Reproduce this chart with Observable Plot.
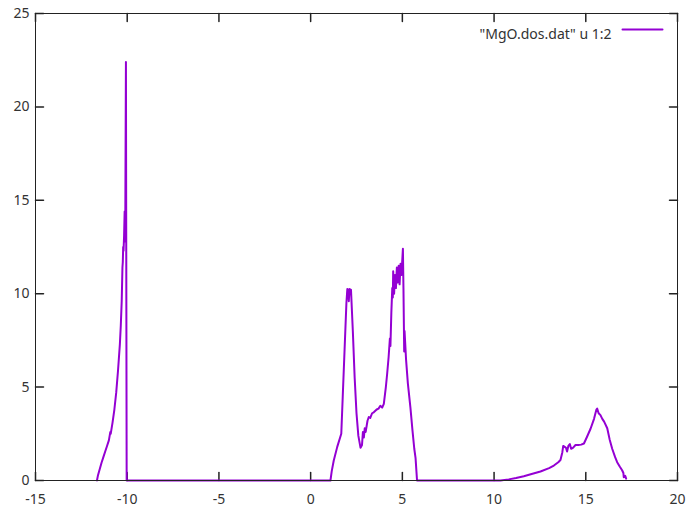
<!DOCTYPE html>
<html><head><meta charset="utf-8">
<script src="https://cdn.jsdelivr.net/npm/d3@7"></script>
<script src="https://cdn.jsdelivr.net/npm/@observablehq/plot@0.6"></script>
<style>body{margin:0;background:#fff;}</style>
</head><body><div id="chart"></div>
<script>
const energy = [
  -11.65,-11.6,-11.5,-11.4,-11.3,-11.2,-11.1,-11.0,-10.92,-10.9,-10.8,-10.7,-10.6,-10.5,-10.4,-10.35,-10.3,-10.26,-10.24,-10.22,-10.2,-10.17,-10.14,-10.11,-10.07,-10.03,
  1.08,1.15,1.26,1.45,1.67,1.75,1.85,1.95,2.0,2.05,2.08,2.12,2.2,2.3,2.4,2.5,2.6,2.72,2.8,2.85,2.9,2.95,3.0,3.1,3.17,3.25,3.35,3.44,3.6,3.7,3.8,3.9,3.99,
  4.1,4.17,4.25,4.32,4.35,4.4,4.45,4.48,4.5,4.55,4.6,4.65,4.7,4.75,4.8,4.85,4.9,4.95,5.03,5.06,5.1,5.12,5.2,5.3,5.44,5.55,5.65,5.72,5.8,
  10.35,10.8,11.2,11.62,12.0,12.53,13.0,13.26,13.5,13.62,13.72,13.77,13.85,13.92,13.98,14.05,14.13,14.2,14.3,14.44,14.6,14.75,14.9,15.05,15.26,15.45,15.58,15.62,
  15.7,15.8,15.9,16.0,16.17,16.3,16.44,16.6,16.71,16.85,16.98,17.05,17.07,17.15,17.2
];
const dos = [
  0,0.25,0.6,0.95,1.25,1.55,1.85,2.15,2.6,2.5,3.1,3.8,4.7,5.9,7.3,8.3,9.6,11.4,11.7,12.5,12.3,13.1,14.4,12.8,22.4,0,
  0,0.5,1.07,1.8,2.5,4.5,7.0,9.5,10.25,10.2,9.6,10.25,10.2,8.0,5.5,3.6,2.4,1.75,1.9,2.6,2.3,2.8,2.6,3.2,3.4,3.35,3.6,3.65,3.8,3.85,4.0,3.9,4.1,
  5.0,5.7,6.6,7.6,7.2,9.0,10.3,9.8,11.2,10.0,11.0,10.3,11.4,10.6,11.5,10.5,11.6,11.0,12.4,10.3,6.9,8.0,6.5,5.2,3.9,2.7,1.7,1.2,0,
  0,0.06,0.13,0.23,0.33,0.48,0.66,0.8,0.98,1.1,1.5,1.85,1.8,1.75,1.55,1.85,1.95,1.7,1.75,1.9,1.9,1.92,1.98,2.3,2.77,3.3,3.8,3.85,
  3.6,3.5,3.3,3.15,2.8,2.2,1.7,1.25,0.98,0.75,0.55,0.4,0.18,0.25,0.1
];
const xTicks = [-15,-10,-5,0,5,10,15,20];
const yTicks = [0,5,10,15,20,25];
const xDomain = [-15,20];
const yDomain = [0,25];
const legendLabel = '"MgO.dos.dat" u 1:2';
const lineColor = "#9400D3";

const data = energy.map((e,i)=>({e, d: dos[i]}));
const tickShape = {draw(ctx,l){ctx.moveTo(0,0); ctx.lineTo(0,-l);}};
const axisColor = "#222";
const fmt = d => String(d);

const chart = Plot.plot({
  width: 690, height: 510,
  marginLeft: 35, marginRight: 13, marginTop: 13, marginBottom: 30,
  style: {fontFamily: "'Noto Sans', sans-serif", fontSize: "14px", color: "#333", background: "#fff"},
  x: {domain: xDomain},
  y: {domain: yDomain},
  marks: [
    Plot.axisX(xTicks, {tickSize: 0, tickPadding: 14, fontSize: 14, label: null, tickFormat: fmt}),
    Plot.axisY(yTicks, {tickSize: 0, tickPadding: 6, fontSize: 14, label: null, tickFormat: fmt}),
    Plot.vector(xTicks, {x: d=>d, y: () => yDomain[0], length: 8, rotate: 0, anchor: "start", shape: tickShape, stroke: axisColor}),
    Plot.vector(xTicks, {x: d=>d, y: () => yDomain[1], length: 8, rotate: 180, anchor: "start", shape: tickShape, stroke: axisColor}),
    Plot.vector(yTicks, {y: d=>d, x: () => xDomain[0], length: 8, rotate: 90, anchor: "start", shape: tickShape, stroke: axisColor}),
    Plot.vector(yTicks, {y: d=>d, x: () => xDomain[1], length: 8, rotate: -90, anchor: "start", shape: tickShape, stroke: axisColor}),
    Plot.line(data, {x: "e", y: "d", stroke: lineColor, strokeWidth: 2}),
    Plot.frame({stroke: axisColor}),
    Plot.text([legendLabel], {frameAnchor: "top-right", dx: -66, dy: 16, textAnchor: "end", fontSize: 14, fill: "#333"}),
    Plot.vector([legendLabel], {frameAnchor: "top-right", dx: -15, dy: 16, rotate: -90, length: 40, anchor: "start", shape: tickShape, stroke: lineColor, strokeWidth: 2})
  ]
});
document.getElementById("chart").appendChild(chart);
</script>
</body></html>
